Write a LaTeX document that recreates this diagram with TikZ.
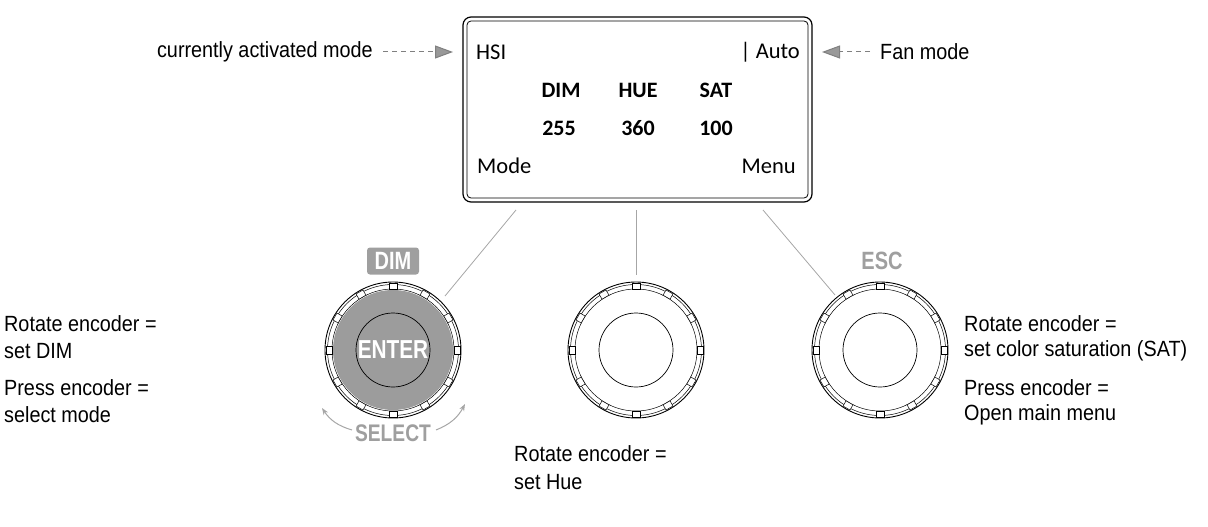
\documentclass[tikz,border=0pt]{standalone}
\usepackage{fontspec}
\setmainfont{Liberation Sans}
\newfontfamily\narrow[FakeStretch=0.9]{Liberation Sans}
\newfontfamily\cond[FakeStretch=0.8]{Liberation Sans}
\newfontfamily\lcd{Carlito}
\usetikzlibrary{arrows.meta}
\begin{document}
\begin{tikzpicture}[x=1pt,y=-1pt,
 side/.style={font=\narrow\fontsize{22}{26}\selectfont,anchor=west,inner sep=0},
 lcdt/.style={font=\lcd\fontsize{22.5}{26}\selectfont,inner sep=0},
 lcdb/.style={font=\lcd\bfseries\fontsize{22}{26}\selectfont,inner sep=0},
 lead/.style={draw=gray!70,line width=0.8pt},
 darr/.style={draw=gray,dash pattern=on 5pt off 4pt,line width=1pt,-{Triangle[length=18pt,width=13pt,fill=gray!80]}},
 badge/.style={font=\cond\bfseries\fontsize{25}{28}\selectfont,text=gray!75}]
\useasboundingbox (0,0) rectangle (1208,527);
% screen
\draw[line width=1.2pt,rounded corners=8pt] (463,17) rectangle (812,202);
\draw[line width=0.8pt,rounded corners=4pt] (467,21) rectangle (808,198);
\node[lcdt,anchor=west] (hsi) at (476,52) {HSI};
\node[lcdt,anchor=east] (auto) at (800,52) {| Auto};
\node[lcdb] (dim) at (561,90) {DIM};
\node[lcdb] (hue) at (638,90) {HUE};
\node[lcdb] (sat) at (716,90) {SAT};
\node[lcdb] (v1) at (559,128) {255};
\node[lcdb] (v2) at (638,128) {360};
\node[lcdb] (v3) at (716,128) {100};
\node[lcdt,anchor=west] (mode) at (477,166) {Mode};
\node[lcdt,anchor=east] (menu) at (796,166) {Menu};
% top arrows
\node[side,anchor=east] (cur) at (373,52) {currently activated mode};
\coordinate (c1) at (383,52); \coordinate (c2) at (453,52);
\draw[darr] (c1) -- (c2);
\node[side] (fan) at (880,52) {Fan mode};
\coordinate (f1) at (870,52); \coordinate (f2) at (822,52);
\draw[darr] (f1) -- (f2);
% knobs
\foreach \n/\x in {k1/393,k2/636,k3/880}{
 \coordinate (\n) at (\x,350);
 \draw[line width=0.9pt] (\n) circle (68);
 \draw[line width=0.5pt] (\n) circle (65.5);
 \draw[line width=0.5pt] (\n) circle (61);
 \foreach \a in {0,30,...,330}{
  \draw[line width=0.5pt,fill=white,rotate around={\a:(\n)}] ([shift={(-4,61)}]\n) rectangle ([shift={(4,67)}]\n);}
}
\fill[gray!78] (k1) circle (60);
\draw[line width=0.7pt] (k1) circle (37);
\draw[line width=0.7pt] (k2) circle (37);
\draw[line width=0.7pt] (k3) circle (37);
\node[font=\cond\bfseries\fontsize{26}{28}\selectfont,text=white] (enter) at (k1) {ENTER};
\node[fill=gray!75,text=white,rounded corners=3pt,font=\cond\bfseries\fontsize{25}{28}\selectfont,minimum width=52,minimum height=27,inner sep=1] (dimb) at (393,261) {DIM};
\node[badge] (esc) at (882,261) {ESC};
\node[badge,font=\cond\bfseries\fontsize{24}{28}\selectfont] (sel) at (393,433) {SELECT};
\coordinate (a1) at (352,430); \coordinate (a2) at (322,408);
\coordinate (b1) at (436,430); \coordinate (b2) at (465,404);
\draw[gray!70,line width=1pt,-{Stealth[length=7pt]}] (a1) to[bend left=20] (a2);
\draw[gray!70,line width=1pt,-{Stealth[length=7pt]}] (b1) to[bend right=20] (b2);
% leaders
\coordinate (l1) at (516,210); \coordinate (m1) at (445,296);
\coordinate (l2) at (636,210); \coordinate (m2) at (636,275);
\coordinate (l3) at (763,210); \coordinate (m3) at (835,295);
\draw[lead] (l1)--(m1); \draw[lead] (l2)--(m2); \draw[lead] (l3)--(m3);
% texts
\node[side] (t1) at (4,324) {Rotate encoder =};
\node[side] (t2) at (4,351) {set DIM};
\node[side] (t3) at (4,388) {Press encoder =};
\node[side] (t4) at (4,415) {select mode};
\node[side] (h1) at (514,454) {Rotate encoder =};
\node[side] (h2) at (514,482) {set Hue};
\node[side] (r1) at (964,324) {Rotate encoder =};
\node[side] (r2) at (964,351) {set color saturation (SAT)};
\node[side] (r3) at (964,388) {Press encoder =};
\node[side] (r4) at (964,415) {Open main menu};
\end{tikzpicture}
\end{document}
